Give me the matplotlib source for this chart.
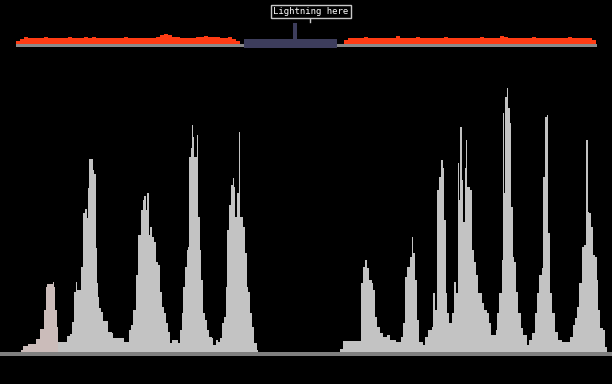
import numpy as np
import matplotlib
matplotlib.use("Agg")
import matplotlib.pyplot as plt

# main intensity trace, before the lightning (column, height)
left_x = [21, 23, 28, 36, 40, 44, 46, 47, 53, 54,
          55, 57, 58, 67, 70, 72, 74, 76, 77, 81,
          83, 85, 87, 88, 89, 93, 94, 96, 97, 98,
          99, 101, 103, 108, 112, 113, 124, 129, 131, 133,
          136, 138, 141, 143, 144, 146, 147, 149, 150, 152,
          154, 156, 158, 160, 162, 164, 166, 168, 170, 172,
          178, 180, 182, 183, 185, 187, 188, 189, 191, 192,
          193, 194, 196, 197, 198, 200, 201, 203, 205, 207,
          209, 212, 213, 216, 218, 220, 222, 224, 226, 227,
          229, 231, 233, 234, 235, 237, 239, 240, 243, 245,
          247, 248, 250, 252, 254, 257, 258]
left_h = [2, 6, 8, 13, 23, 42, 65, 68, 70, 65,
          42, 25, 10, 16, 18, 30, 60, 70, 62, 85,
          139, 143, 134, 164, 193, 182, 178, 104, 69, 55,
          44, 40, 31, 20, 19, 14, 10, 22, 27, 42,
          77, 117, 142, 152, 156, 142, 159, 117, 125, 115,
          110, 90, 87, 60, 45, 39, 29, 20, 9, 12,
          9, 22, 39, 65, 85, 102, 105, 195, 204, 227,
          215, 195, 195, 217, 135, 102, 72, 39, 32, 22,
          15, 14, 7, 12, 10, 14, 29, 35, 65, 122,
          147, 167, 174, 165, 135, 159, 220, 135, 125, 99,
          65, 60, 39, 25, 9, 2, 0]

# main intensity trace, after the lightning
right_x = [340, 343, 361, 363, 365, 367, 369, 372, 373, 375,
           377, 380, 383, 387, 390, 396, 401, 403, 405, 407,
           410, 412, 413, 415, 417, 419, 423, 425, 428, 432,
           433, 435, 437, 439, 441, 443, 444, 446, 447, 449,
           452, 454, 456, 458, 459, 460, 462, 463, 465, 466,
           467, 470, 472, 474, 476, 478, 482, 484, 487, 489,
           491, 496, 497, 499, 502, 503, 504, 505, 507, 508,
           510, 511, 513, 514, 516, 518, 521, 523, 527, 529,
           532, 535, 537, 539, 542, 543, 545, 547, 548, 550,
           552, 555, 558, 562, 570, 573, 575, 577, 579, 582,
           584, 586, 588, 589, 591, 593, 595, 597, 598, 600,
           603, 605, 607]
right_h = [3, 11, 69, 85, 92, 84, 72, 69, 62, 35,
           25, 19, 15, 17, 12, 10, 15, 29, 75, 85,
           95, 115, 99, 72, 32, 10, 7, 15, 22, 25,
           59, 42, 162, 175, 192, 184, 132, 59, 39, 29,
           39, 70, 59, 189, 152, 225, 172, 130, 184, 212,
           165, 162, 102, 90, 77, 59, 49, 42, 39, 29,
           17, 22, 39, 59, 92, 239, 159, 255, 264, 244,
           229, 145, 95, 90, 60, 39, 24, 17, 7, 12,
           19, 39, 59, 77, 84, 175, 235, 237, 119, 59,
           39, 20, 12, 10, 15, 27, 34, 45, 69, 105,
           107, 212, 140, 139, 125, 97, 95, 72, 42, 24,
           22, 5, 0]

# top overview strip (levels in 4 px bins)
top_left_start = 16
top_left = [3, 5, 7, 6, 6, 6, 6, 7, 6, 6, 6, 6, 6, 7, 6, 6, 6, 7, 6, 7,
            6, 6, 6, 6, 6, 6, 6, 7, 6, 6, 6, 6, 6, 6, 6, 7, 9, 10, 9, 7,
            7, 6, 6, 6, 6, 7, 7, 8, 7, 7, 7, 6, 6, 7, 5, 3]
top_right_start = 344
top_right = [4, 6, 6, 6, 6, 7, 6, 6, 6, 6, 6, 6, 6, 8, 6, 6, 6, 6, 7, 6,
             6, 6, 6, 6, 6, 7, 6, 6, 6, 6, 6, 6, 6, 6, 7, 6, 6, 6, 6, 8,
             7, 6, 6, 6, 6, 6, 6, 7, 6, 6, 6, 6, 6, 6, 6, 6, 7, 6, 6, 6,
             6, 6, 4]
gap_x = [244, 293, 297, 337]
gap_h = [5, 21, 5, 5]
label = "Lightning here"

BASE = 32
TOP = 340

fig = plt.figure(figsize=(6.12, 3.84), dpi=100, facecolor="black")
ax = fig.add_axes([0, 0, 1, 1])
ax.set_facecolor("black")
ax.set_xlim(0, 612)
ax.set_ylim(0, 384)
ax.axis("off")

grey = "#c3c3c3"
lx = np.array(left_x)
lh = np.array(left_h)
ax.fill_between(lx, BASE, BASE + lh, step="post", color=grey, lw=0)
m = lx <= 58
ax.fill_between(lx[m], BASE, BASE + lh[m], step="post", color="#cbbcba", lw=0)
ax.fill_between(right_x, BASE, BASE + np.array(right_h), step="post", color=grey, lw=0)
ax.fill_between([0, 612], BASE - 4, BASE, color="#7f7f7f", lw=0)

# top strip
red = "#ff3c14"
for start, vals in [(top_left_start, top_left), (top_right_start, top_right)]:
    xs = start + 4 * np.arange(len(vals) + 1)
    hs = np.array(vals + [vals[-1]])
    ax.fill_between(xs, TOP, TOP + hs, step="post", color=red, lw=0)
ax.fill_between([top_left_start, 244], TOP - 3, TOP, color="#8a8a8a", lw=0)
ax.fill_between([336, 597], TOP - 3, TOP, color="#8a8a8a", lw=0)
ax.fill_between(gap_x, TOP - 4, TOP + np.array(gap_h), step="post", color="#3d3d5c", lw=0)

ax.plot([310, 310], [362, 367], color="#c8c8c8", lw=1)
ax.text(311, 372.5, label, ha="center", va="center", color="white",
        fontsize=6.5, family="DejaVu Sans Mono",
        bbox=dict(boxstyle="square,pad=0.25", fc="black", ec="#c8c8c8", lw=1))

fig.savefig("out.png", dpi=100, facecolor="black")
